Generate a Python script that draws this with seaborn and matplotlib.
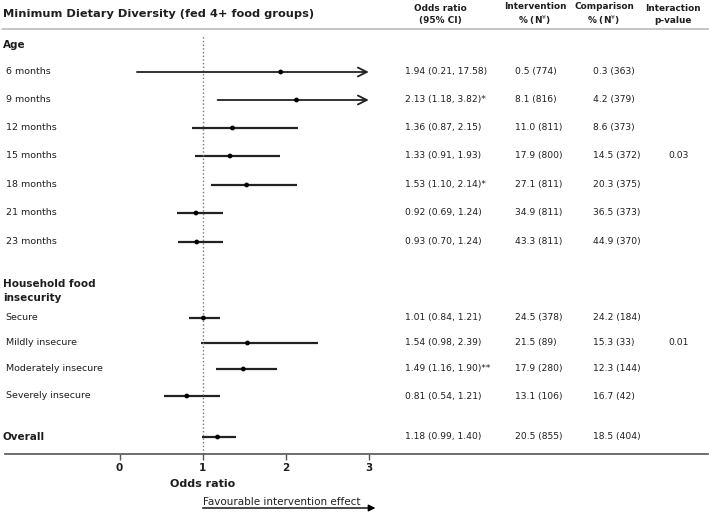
import numpy as np
import pandas as pd
import seaborn as sns
import matplotlib.pyplot as plt

# rows of the forest plot
labels = ["6 months", "9 months", "12 months", "15 months", "18 months", "21 months", "23 months",
          "Secure", "Mildly insecure", "Moderately insecure", "Severely insecure", "Overall"]
odds = [1.94, 2.13, 1.36, 1.33, 1.53, 0.92, 0.93, 1.01, 1.54, 1.49, 0.81, 1.18]
ci_low = [0.21, 1.18, 0.87, 0.91, 1.10, 0.69, 0.70, 0.84, 0.98, 1.16, 0.54, 0.99]
ci_high = [17.58, 3.82, 2.15, 1.93, 2.14, 1.24, 1.24, 1.21, 2.39, 1.90, 1.21, 1.40]
stars = ["", "*", "", "", "*", "", "", "", "", "**", "", ""]
int_pct = [0.5, 8.1, 11.0, 17.9, 27.1, 34.9, 43.3, 24.5, 21.5, 17.9, 13.1, 20.5]
int_n = [774, 816, 811, 800, 811, 811, 811, 378, 89, 280, 106, 855]
comp_pct = [0.3, 4.2, 8.6, 14.5, 20.3, 36.5, 44.9, 24.2, 15.3, 12.3, 16.7, 18.5]
comp_n = [363, 379, 373, 372, 375, 373, 370, 184, 33, 144, 42, 404]
p_interaction = ["", "", "", "0.03", "", "", "", "", "0.01", "", "", ""]

# layout (vertical row positions, in pixel-like units from the top)
row_y = [72, 100, 128, 156, 185, 213, 242, 318, 343, 369, 396, 437]
x_cap = 3.0

sns.set_theme(style="white")
plt.rcParams['font.family'] = ['DejaVu Sans']
txt = "#1e1e1e"

df = pd.DataFrame({"label": labels, "odds": odds, "lo": ci_low, "hi": ci_high, "y": row_y})

fig = plt.figure(figsize=(7.09, 5.13), dpi=100)
ax = fig.add_axes([5 / 709, (513 - 454) / 513, 703 / 709, (454 - 35) / 513])

# confidence intervals, arrows where they run past the axis
for _, r in df.iterrows():
    if r.hi > x_cap:
        ax.annotate("", xy=(x_cap, r.y), xytext=(r.lo, r.y),
                    arrowprops=dict(arrowstyle="->", color="#222222", lw=1.3,
                                    mutation_scale=16, shrinkA=0, shrinkB=0))
    else:
        ax.hlines(r.y, r.lo, r.hi, color="#222222", lw=1.6)

sns.scatterplot(data=df, x="odds", y="y", ax=ax, color="black", s=12, zorder=3,
                edgecolor="none", legend=False)

ax.axvline(1, ls=":", color="#777777", lw=1)

ax.set_xlim(-1.378, 7.082)
ax.set_ylim(454, 35)
ax.set_xticks([0, 1, 2, 3])
ax.set_xticklabels(["0", "1", "2", "3"], fontweight="bold", fontsize=7.5, color=txt)
ax.set_yticks([])
ax.set_xlabel("")
ax.set_ylabel("")
for s in ["top", "left", "right"]:
    ax.spines[s].set_visible(False)
ax.spines["bottom"].set_color("#555555")
ax.spines["bottom"].set_linewidth(1.2)
ax.tick_params(axis="x", bottom=True, length=4, width=1, color="#555555", pad=2.5)

# title and header rule
ax.text(-1.405, 14, "Minimum Dietary Diversity (fed 4+ food groups)", fontsize=8.2,
        fontweight="bold", color=txt, va="center", ha="left", clip_on=False)
ax.plot([-1.41, 7.1], [29, 29], color="#bbbbbb", lw=1.2, clip_on=False)

hdr = dict(fontsize=6.4, fontweight="bold", color=txt, va="center", ha="center",
           multialignment="center", linespacing=1.3, clip_on=False)
ax.text(3.857, 14.5, "Odds ratio\n(95% CI)", **hdr)
ax.text(5.0, 14.5, "Intervention\n% (N$^{¥}$)", **hdr)
ax.text(5.83, 14.5, "Comparison\n% (N$^{¥}$)", **hdr)
ax.text(6.66, 14.5, "Interaction\np-value", **hdr)

# section headers and row labels
ax.text(-1.405, 45, "Age", fontsize=7.5, fontweight="bold", color=txt, va="center", clip_on=False)
ax.text(-1.405, 291, "Household food\ninsecurity", fontsize=7.5, fontweight="bold", color=txt,
        va="center", linespacing=1.5, clip_on=False)

for i, r in df.iterrows():
    bold = r.label == "Overall"
    ax.text(-1.405 if bold else -1.37, r.y, r.label, fontsize=7.5 if bold else 6.8,
            fontweight="bold" if bold else "normal", color=txt, va="center", clip_on=False)
    ax.text(3.436, r.y, f"{odds[i]:.2f} ({ci_low[i]:.2f}, {ci_high[i]:.2f}){stars[i]}",
            fontsize=6.6, color=txt, va="center")
    ax.text(4.758, r.y, f"{int_pct[i]:.1f} ({int_n[i]})", fontsize=6.6, color=txt, va="center")
    ax.text(5.697, r.y, f"{comp_pct[i]:.1f} ({comp_n[i]})", fontsize=6.6, color=txt, va="center")
    if p_interaction[i]:
        ax.text(6.60, r.y, p_interaction[i], fontsize=6.6, color=txt, va="center")

# axis title and direction arrow
ax.text(1, 484, "Odds ratio", fontsize=8, fontweight="bold", color=txt, ha="center",
        va="center", clip_on=False)
ax.text(1, 502, "Favourable intervention effect", fontsize=7.5, color=txt, ha="left",
        va="center", clip_on=False)
ax.annotate("", xy=(3.08, 508), xytext=(1, 508), annotation_clip=False,
            arrowprops=dict(arrowstyle="-|>", color="black", lw=1, mutation_scale=10,
                            shrinkA=0, shrinkB=0))

fig.savefig("out.png", dpi=100)
